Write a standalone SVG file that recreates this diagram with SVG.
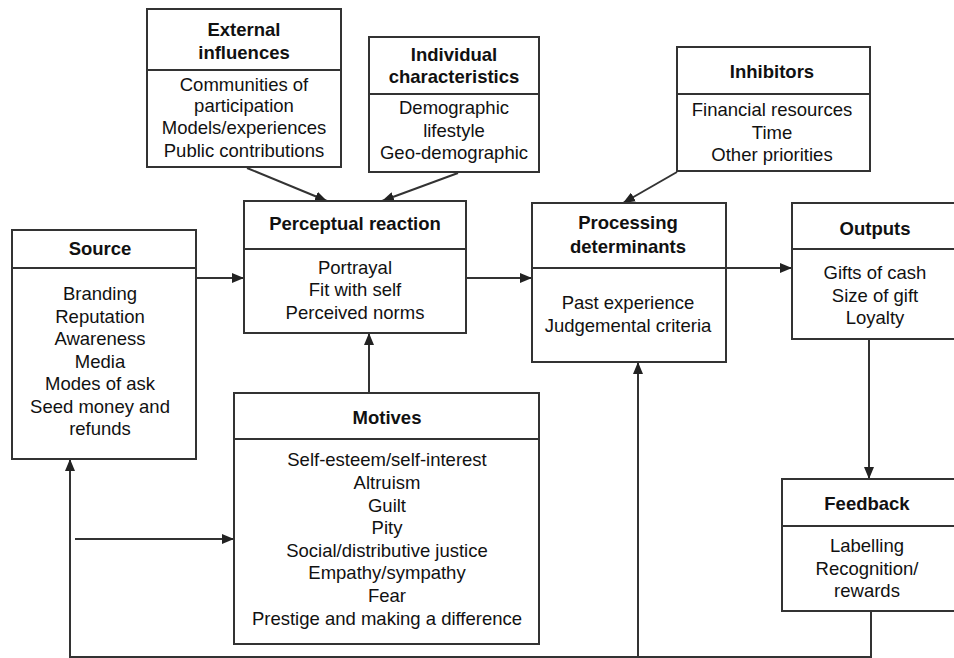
<svg xmlns="http://www.w3.org/2000/svg" width="954" height="658" viewBox="0 0 954 658">
<style>
.box{fill:#fff;stroke:#333;stroke-width:2}
.ln{fill:none;stroke:#333;stroke-width:2}
.t{font-family:"Liberation Sans",Arial,sans-serif;font-size:18.5px;font-weight:bold;fill:#111;text-anchor:middle}
.b{font-family:"Liberation Sans",Arial,sans-serif;font-size:18.5px;fill:#111;text-anchor:middle}
</style>
<defs>
<marker id="ah" viewBox="0 0 12 10" refX="12" refY="5" markerWidth="12" markerHeight="10" markerUnits="userSpaceOnUse" orient="auto">
<path d="M0,0 L12,5 L0,10 z" fill="#222"/>
</marker>
</defs>
<rect width="954" height="658" fill="#fff"/>

<g id="connectors">
<line class="ln" x1="247" y1="168" x2="327" y2="201" marker-end="url(#ah)"/>
<line class="ln" x1="458" y1="173" x2="382" y2="201" marker-end="url(#ah)"/>
<line class="ln" x1="677" y1="172" x2="623" y2="203" marker-end="url(#ah)"/>
<line class="ln" x1="196" y1="278" x2="244" y2="278" marker-end="url(#ah)"/>
<line class="ln" x1="466" y1="278" x2="532" y2="278" marker-end="url(#ah)"/>
<line class="ln" x1="726" y1="268" x2="792" y2="268" marker-end="url(#ah)"/>
<line class="ln" x1="369" y1="393" x2="369" y2="333" marker-end="url(#ah)"/>
<line class="ln" x1="869" y1="339" x2="869" y2="479" marker-end="url(#ah)"/>
<polyline class="ln" points="871,611 871,657 70,657 70,459" marker-end="url(#ah)"/>
<line class="ln" x1="638" y1="657" x2="638" y2="362" marker-end="url(#ah)"/>
<line class="ln" x1="75" y1="539" x2="234" y2="539" marker-end="url(#ah)"/>
</g>

<g id="external">
<rect class="box" x="147" y="9" width="194" height="158"/>
<line class="ln" x1="147" y1="70" x2="341" y2="70"/>
<text class="t" x="244" y="36">External</text>
<text class="t" x="244" y="59">influences</text>
<text class="b" x="244" y="91">Communities of</text>
<text class="b" x="244" y="112">participation</text>
<text class="b" x="244" y="134">Models/experiences</text>
<text class="b" x="244" y="157">Public contributions</text>
</g>

<g id="individual">
<rect class="box" x="369" y="37" width="170" height="135"/>
<line class="ln" x1="369" y1="94" x2="539" y2="94"/>
<text class="t" x="454" y="61">Individual</text>
<text class="t" x="454" y="83">characteristics</text>
<text class="b" x="454" y="114">Demographic</text>
<text class="b" x="454" y="137">lifestyle</text>
<text class="b" x="454" y="159">Geo-demographic</text>
</g>

<g id="inhibitors">
<rect class="box" x="677" y="47" width="193" height="124"/>
<line class="ln" x1="677" y1="94" x2="870" y2="94"/>
<text class="t" x="772" y="78">Inhibitors</text>
<text class="b" x="772" y="116">Financial resources</text>
<text class="b" x="772" y="139">Time</text>
<text class="b" x="772" y="161">Other priorities</text>
</g>

<g id="perceptual">
<rect class="box" x="244" y="201" width="222" height="132"/>
<line class="ln" x1="244" y1="249" x2="466" y2="249"/>
<text class="t" x="355" y="230">Perceptual reaction</text>
<text class="b" x="355" y="274">Portrayal</text>
<text class="b" x="355" y="296">Fit with self</text>
<text class="b" x="355" y="319">Perceived norms</text>
</g>

<g id="source">
<rect class="box" x="12" y="230" width="184" height="229"/>
<line class="ln" x1="12" y1="268" x2="196" y2="268"/>
<text class="t" x="100" y="255">Source</text>
<text class="b" x="100" y="300">Branding</text>
<text class="b" x="100" y="323">Reputation</text>
<text class="b" x="100" y="345">Awareness</text>
<text class="b" x="100" y="368">Media</text>
<text class="b" x="100" y="390">Modes of ask</text>
<text class="b" x="100" y="413">Seed money and</text>
<text class="b" x="100" y="435">refunds</text>
</g>

<g id="processing">
<rect class="box" x="532" y="203" width="194" height="159"/>
<line class="ln" x1="532" y1="268" x2="726" y2="268"/>
<text class="t" x="628" y="229">Processing</text>
<text class="t" x="628" y="253">determinants</text>
<text class="b" x="628" y="309">Past experience</text>
<text class="b" x="628" y="332">Judgemental criteria</text>
</g>

<g id="outputs">
<path class="box" d="M956,203 L792,203 L792,339 L956,339"/>
<line class="ln" x1="792" y1="249" x2="956" y2="249"/>
<text class="t" x="875" y="235">Outputs</text>
<text class="b" x="875" y="279">Gifts of cash</text>
<text class="b" x="875" y="302">Size of gift</text>
<text class="b" x="875" y="324">Loyalty</text>
</g>

<g id="motives">
<rect class="box" x="234" y="393" width="305" height="251"/>
<line class="ln" x1="234" y1="439" x2="539" y2="439"/>
<text class="t" x="387" y="424">Motives</text>
<text class="b" x="387" y="466">Self-esteem/self-interest</text>
<text class="b" x="387" y="489">Altruism</text>
<text class="b" x="387" y="512">Guilt</text>
<text class="b" x="387" y="534">Pity</text>
<text class="b" x="387" y="557">Social/distributive justice</text>
<text class="b" x="387" y="579">Empathy/sympathy</text>
<text class="b" x="387" y="602">Fear</text>
<text class="b" x="387" y="625">Prestige and making a difference</text>
</g>

<g id="feedback">
<path class="box" d="M956,479 L782,479 L782,611 L956,611"/>
<line class="ln" x1="782" y1="526" x2="956" y2="526"/>
<text class="t" x="867" y="510">Feedback</text>
<text class="b" x="867" y="552">Labelling</text>
<text class="b" x="867" y="575">Recognition/</text>
<text class="b" x="867" y="597">rewards</text>
</g>
</svg>
